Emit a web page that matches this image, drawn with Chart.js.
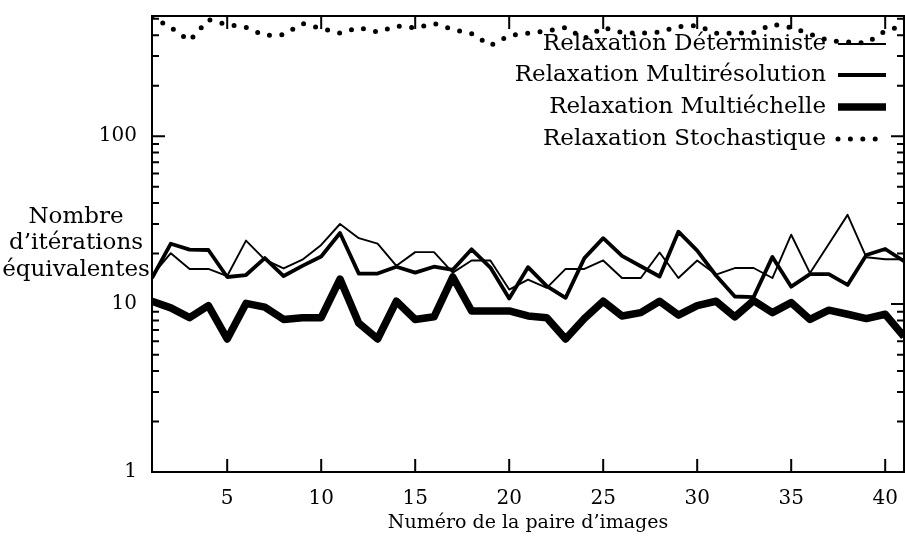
<!DOCTYPE html>
<html lang="fr">
<head>
<meta charset="UTF-8">
<title>Nombre d'itérations équivalentes</title>
<script src="https://cdn.jsdelivr.net/npm/chart.js"></script>
<style>
    html, body { margin: 0; padding: 0; background: #fff; overflow: hidden; }
    #wrap { width: 905px; height: 540px; }
</style>
</head>
<body>
<div id="wrap"><canvas id="chart" width="905" height="540"></canvas></div>
<script>
// numéro de la paire d'images
const pairs = [1, 2, 3, 4, 5, 6, 7, 8, 9, 10, 11, 12, 13, 14, 15, 16, 17, 18, 19, 20,
    21, 22, 23, 24, 25, 26, 27, 28, 29, 30, 31, 32, 33, 34, 35, 36, 37, 38, 39, 40, 41];

const deterministe = [14.8, 20.1, 16.2, 16.2, 14.7, 23.9, 18.4, 16.3, 18.4, 22.5,
    30.0, 24.7, 22.9, 16.9, 20.4, 20.4, 15.4, 18.2, 18.2, 12.2,
    14.0, 12.5, 16.2, 16.2, 18.2, 14.3, 14.3, 20.3, 14.3, 18.2,
    15.0, 16.4, 16.4, 14.3, 25.9, 15.3, 22.8, 34.0, 19.0, 18.5, 18.5];

const multiresolution = [14.3, 22.9, 21.1, 21.0, 14.5, 14.9, 18.8, 14.7, 16.9, 19.2,
    26.5, 15.2, 15.2, 16.7, 15.4, 16.7, 16.0, 21.2, 16.5, 10.8,
    16.6, 12.8, 10.9, 18.8, 24.7, 19.4, 16.8, 14.6, 27.0, 20.8,
    14.8, 11.1, 11.0, 19.1, 12.7, 15.1, 15.1, 13.0, 19.6, 21.3, 18.0];

const multiechelle = [10.4, 9.5, 8.3, 9.8, 6.2, 10.1, 9.6, 8.1, 8.3, 8.3,
    14.1, 7.7, 6.2, 10.4, 8.1, 8.4, 14.5, 9.1, 9.1, 9.1,
    8.5, 8.3, 6.2, 8.2, 10.4, 8.5, 8.9, 10.4, 8.6, 9.8,
    10.4, 8.4, 10.5, 8.9, 10.2, 8.1, 9.2, 8.7, 8.2, 8.7, 6.4];

const stochastique = [515, 444, 371, 495, 462, 445, 398, 403, 469, 438,
    411, 444, 417, 453, 442, 469, 432, 408, 347, 398,
    411, 423, 444, 382, 444, 414, 411, 417, 450, 456,
    411, 411, 414, 465, 444, 406, 371, 364, 359, 423, 456];

const seriesNames = ['Relaxation Déterministe', 'Relaxation Multirésolution',
    'Relaxation Multiéchelle', 'Relaxation Stochastique'];
const xTickLabels = [5, 10, 15, 20, 25, 30, 35, 40];
const yTickLabels = [1, 10, 100];
const yTitle = ['Nombre', 'd\u2019itérations', 'équivalentes'];
const xTitle = 'Numéro de la paire d\u2019images';

const FONT = "'DejaVu Serif', serif";
Chart.defaults.font.family = FONT;
Chart.defaults.color = '#000';

function pts(values) {
    return values.map((v, i) => ({ x: pairs[i], y: v }));
}

const styles = [
    { borderWidth: 1.9, borderDash: [] },
    { borderWidth: 3.8, borderDash: [] },
    { borderWidth: 7.5, borderDash: [] },
    { borderWidth: 5, borderDash: [0, 12.4] }
];
const series = [deterministe, multiresolution, multiechelle, stochastique];

// remove the automatic label padding so the plot box lands where the original does
function fixBox(size) {
    return s => {
        if (s.isHorizontal()) s.height = size; else s.width = size;
        s.paddingLeft = s.paddingRight = s.paddingTop = s.paddingBottom = 0;
    };
}

// cadre, graduations, légende et titres
const decor = {
    id: 'decor',
    afterDatasetsDraw(chart) {
        const { ctx, chartArea: a, scales: { x, y } } = chart;
        ctx.save();
        ctx.strokeStyle = '#000';
        ctx.lineWidth = 2;
        ctx.strokeRect(a.left, a.top, a.right - a.left, a.bottom - a.top);
        ctx.beginPath();
        xTickLabels.forEach(v => {
            const px = x.getPixelForValue(v);
            ctx.moveTo(px, a.bottom); ctx.lineTo(px, a.bottom - 13);
            ctx.moveTo(px, a.top); ctx.lineTo(px, a.top + 13);
        });
        for (let d = 1; d <= 100; d *= 10) {
            for (let m = 1; m <= 9; m++) {
                const v = d * m;
                if (v > y.max) break;
                const py = y.getPixelForValue(v);
                const len = m === 1 ? 13 : 7;
                ctx.moveTo(a.left, py); ctx.lineTo(a.left + len, py);
                ctx.moveTo(a.right, py); ctx.lineTo(a.right - len, py);
            }
        }
        ctx.stroke();
        ctx.restore();
    },
    afterDraw(chart) {
        const { ctx } = chart;
        ctx.save();
        ctx.fillStyle = '#000';
        ctx.strokeStyle = '#000';
        ctx.font = '23px ' + FONT;
        ctx.textBaseline = 'middle';
        // légende
        const rows = [44, 75, 107, 139];
        chart.data.datasets.forEach((ds, i) => {
            ctx.textAlign = 'right';
            ctx.fillText(ds.label, 826, rows[i]);
            ctx.beginPath();
            ctx.lineWidth = ds.borderWidth;
            ctx.setLineDash(ds.borderDash);
            ctx.lineCap = ds.borderDash.length ? 'round' : 'butt';
            ctx.moveTo(838, rows[i]);
            ctx.lineTo(886, rows[i]);
            ctx.stroke();
        });
        ctx.setLineDash([]);
        // titre de l'axe y
        ctx.textAlign = 'center';
        yTitle.forEach((t, i) => ctx.fillText(t, 76, 217 + i * 26.5));
        // titre de l'axe x
        ctx.font = '19px ' + FONT;
        ctx.fillText(xTitle, 528, 523);
        ctx.restore();
    }
};

new Chart(document.getElementById('chart'), {
    type: 'line',
    data: {
        datasets: series.map((s, i) => ({
            label: seriesNames[i],
            data: pts(s),
            borderColor: '#000',
            borderWidth: styles[i].borderWidth,
            borderDash: styles[i].borderDash,
            borderCapStyle: styles[i].borderDash.length ? 'round' : 'butt',
            borderJoinStyle: 'round',
            pointRadius: 0,
            tension: 0,
            fill: false
        }))
    },
    options: {
        responsive: false,
        animation: false,
        devicePixelRatio: 1,
        layout: { padding: { left: 0, right: 1, top: 16, bottom: 0 } },
        plugins: { legend: { display: false }, tooltip: { enabled: false } },
        scales: {
            x: {
                type: 'linear',
                min: 1,
                max: 41,
                grid: { display: false, drawTicks: false },
                border: { display: false },
                afterBuildTicks: s => { s.ticks = xTickLabels.map(v => ({ value: v })); },
                ticks: {
                    autoSkip: false,
                    maxRotation: 0,
                    padding: 15,
                    font: { size: 20 }
                },
                afterFit: fixBox(68)
            },
            y: {
                type: 'logarithmic',
                min: 1,
                max: 520,
                grid: { display: false, drawTicks: false },
                border: { display: false },
                afterBuildTicks: s => { s.ticks = yTickLabels.map(v => ({ value: v })); },
                ticks: {
                    autoSkip: false,
                    padding: 15,
                    font: { size: 20 },
                    callback: v => String(v)
                },
                afterFit: fixBox(152)
            }
        }
    },
    plugins: [decor]
});
</script>
</body>
</html>
